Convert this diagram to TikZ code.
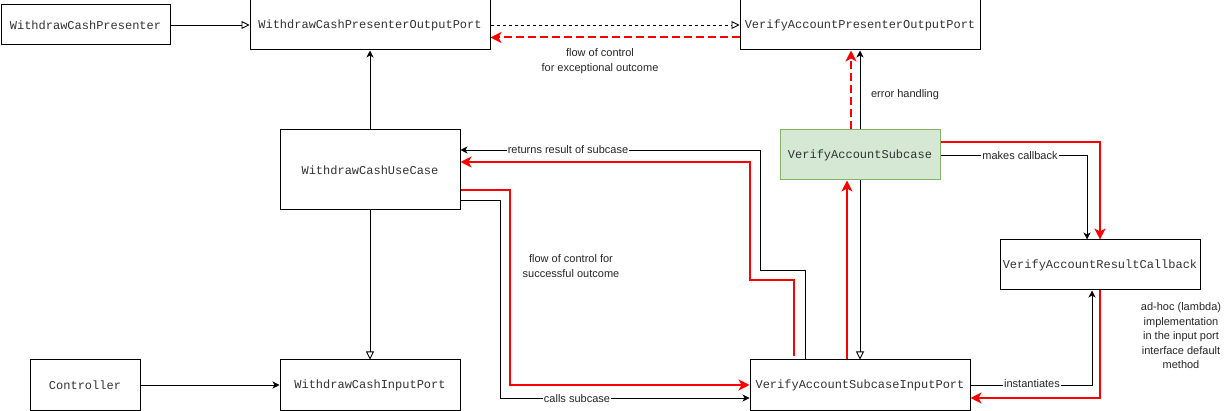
\documentclass[tikz,border=0pt]{standalone}
\usepackage{fontspec}
\setmainfont{Liberation Sans}
\newfontfamily\boxfont{Liberation Mono}
\usetikzlibrary{arrows.meta}
\definecolor{subfill}{HTML}{D5E8D4}
\definecolor{subdraw}{HTML}{82B366}
\definecolor{boxtext}{HTML}{333333}
\begin{document}
\begin{tikzpicture}[x=1pt,y=-1pt,
  classbox/.style={draw=black,line width=1pt,fill=white,inner sep=0pt,
    font=\boxfont\fontsize{12}{14}\selectfont,text=boxtext},
  lbl/.style={font=\fontsize{11}{14.5}\selectfont,inner sep=1pt,align=center,text=black!85},
  onlinelbl/.style={lbl,fill=white},
  cls/.style={draw=black,line width=0.9pt,-{Stealth[length=7pt,width=7pt,inset=2pt]}},
  real/.style={draw=black,line width=0.9pt,-{Triangle[open,length=8pt,width=8pt]}},
  flow/.style={draw=red,line width=2pt,-{Stealth[length=11pt,width=11pt,inset=3pt]}},
  flowdash/.style={flow,dash pattern=on 8pt off 4pt},
]
\useasboundingbox (0,0) rectangle (1231,411);

% classes and ports
\node[classbox,minimum width=169pt,minimum height=40pt] (wcp) at (85.5,25) {WithdrawCashPresenter};
\node[classbox,minimum width=240pt,minimum height=50pt] (wcpop) at (370,25) {WithdrawCashPresenterOutputPort};
\node[classbox,minimum width=240pt,minimum height=50pt] (vapop) at (860,25) {VerifyAccountPresenterOutputPort};
\node[classbox,minimum width=180pt,minimum height=80pt] (wcuc) at (370,170) {WithdrawCashUseCase};
\node[classbox,minimum width=160pt,minimum height=50pt,fill=subfill,draw=subdraw] (vas) at (860,155) {VerifyAccountSubcase};
\node[classbox,minimum width=200pt,minimum height=50pt] (varc) at (1100,265) {VerifyAccountResultCallback};
\node[classbox,minimum width=110pt,minimum height=50pt] (ctrl) at (85,385) {Controller};
\node[classbox,minimum width=180pt,minimum height=50pt] (wcip) at (370,385) {WithdrawCashInputPort};
\node[classbox,minimum width=220pt,minimum height=50pt] (vasip) at (860,385) {VerifyAccountSubcaseInputPort};

% structural relations
\draw[real] (wcp) -- (wcpop);
\draw[real,dash pattern=on 3pt off 3pt] (wcpop.east) -- (vapop.west);
\draw[cls] (wcuc.north) -- (wcpop.south);
\draw[real] (wcuc.south) -- (wcip.north);
\draw[cls] (ctrl) -- (wcip);
\draw[cls] (vas.north) -- (vapop.south);
\draw[real] (vas.south) -- (vasip.north);

% calls between use cases
\draw[cls] ([yshift=-30pt]wcuc.east) -- (500,200) |- ([yshift=-13pt]vasip.west);
\node[onlinelbl] (lcalls) at (577,399) {calls subcase};
\draw[cls] ([xshift=-55pt]vasip.north) |- (760.5,270) |- ([yshift=20pt]wcuc.east);
\node[onlinelbl] (lreturns) at (568,150) {returns result of subcase};
\draw[cls] (vas.east) -| ([xshift=-13pt]varc.north);
\node[onlinelbl] (lcallback) at (1020,156) {makes callback};
\draw[cls] (vasip.east) -| ([xshift=-8pt]varc.south);
\node[onlinelbl] (linst) at (1032,384) {instantiates};

% flow of control
\draw[flowdash] ([yshift=-12.5pt]vapop.west) -- ([yshift=-12.5pt]wcpop.east);
\draw[flowdash] ([xshift=-9pt]vas.north) -- ([xshift=-9pt]vapop.south);
\draw[flow] ([yshift=-20pt]wcuc.east) -- (510,190) |- (vasip.west);
\draw[flow] ([xshift=-13pt]vasip.north) -- ([xshift=-13pt]vas.south);
\draw[flow] ([yshift=13pt]vas.east) -| (varc.north);
\draw[flow] (varc.south) |- ([yshift=-13pt]vasip.east);
\draw[flow] ([xshift=-66pt,yshift=3pt]vasip.north) |- (750,280) |- ([yshift=8pt]wcuc.east);

% annotations
\node[lbl] (lexc) at (600,61) {flow of control\\for exceptional outcome};
\node[lbl] (lsucc) at (571,266) {flow of control for\\successful outcome};
\node[lbl] (lerr) at (905,95) {error handling};
\node[lbl] (llambda) at (1181,336) {ad-hoc (lambda)\\implementation\\in the input port\\interface default\\method};
\end{tikzpicture}
\end{document}
